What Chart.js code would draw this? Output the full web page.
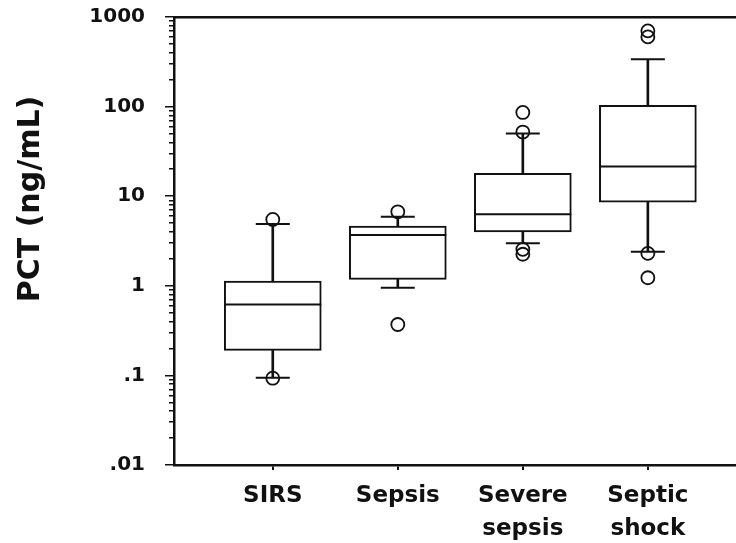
<!DOCTYPE html>
<html><head><meta charset="utf-8">
<script src="https://cdn.jsdelivr.net/npm/chart.js@4.4.1/dist/chart.umd.min.js"></script>
<style>html,body{margin:0;padding:0;background:#fff;}</style>
</head><body>
<canvas id="c" width="736" height="543"></canvas>
<script>
// ---- data ----
const categories   = ['SIRS', 'Sepsis', 'Severe sepsis', 'Septic shock'];
const q1           = [0.19, 1.18, 4.0, 8.6];
const median       = [0.62, 3.7, 6.3, 21.4];
const q3           = [1.13, 4.65, 18.0, 103];
const whiskerLow   = [0.094, 0.95, 2.98, 2.40];
const whiskerHigh  = [4.9, 5.9, 50, 337];
const outliers     = [[5.5, 0.093], [6.7, 0.37], [86, 52, 2.55, 2.25], [700, 600, 2.3, 1.23]];
const yTickValues  = [0.01, 0.1, 1, 10, 100, 1000];
const yTickLabels  = ['.01', '.1', '1', '10', '100', '1000'];
const yTitle       = 'PCT (ng/mL)';

const INK = '#111';
const pos = categories.map((c, i) => i + 1);
const boxData  = pos.map((x, i) => ({x, y: [q1[i], q3[i]]}));
const upWhisk  = pos.map((x, i) => ({x, y: [q3[i], whiskerHigh[i]]}));
const lowWhisk = pos.map((x, i) => ({x, y: [whiskerLow[i], q1[i]]}));
const medPts   = pos.map((x, i) => ({x, y: median[i]}));
const capPts   = pos.flatMap((x, i) => [{x, y: whiskerLow[i]}, {x, y: whiskerHigh[i]}]);
const outPts   = pos.flatMap((x, i) => outliers[i].map(v => ({x, y: v})));

const isDecade = v => Math.abs(Math.log10(v) - Math.round(Math.log10(v))) < 1e-6;

const titlePlugin = {
  id: 'ytitle',
  afterDraw(chart) {
    const ctx = chart.ctx;
    ctx.save();
    ctx.translate(31, 199);
    ctx.rotate(-Math.PI / 2);
    ctx.font = 'bold 30px "DejaVu Sans"';
    ctx.fillStyle = INK;
    ctx.textAlign = 'center';
    ctx.textBaseline = 'middle';
    ctx.fillText(yTitle, 0, 0);
    ctx.restore();
  }
};

new Chart(document.getElementById('c'), {
  type: 'bar',
  data: {
    datasets: [
      { type: 'scatter', data: outPts, pointStyle: 'circle', pointRadius: 6.5, pointBorderWidth: 1.8,
        pointBorderColor: INK, pointBackgroundColor: 'rgba(0,0,0,0)' },
      { type: 'scatter', data: medPts, pointStyle: 'line', pointRadius: 48.5, pointBorderWidth: 2,
        pointBorderColor: INK },
      { type: 'scatter', data: capPts, pointStyle: 'line', pointRadius: 17, pointBorderWidth: 2,
        pointBorderColor: INK },
      { data: boxData, grouped: false, barThickness: 97, backgroundColor: '#fff',
        borderColor: INK, borderWidth: 2, borderSkipped: false },
      { data: upWhisk, grouped: false, barThickness: 2, backgroundColor: INK, borderWidth: 0 },
      { data: lowWhisk, grouped: false, barThickness: 2, backgroundColor: INK, borderWidth: 0 }
    ]
  },
  options: {
    responsive: false,
    animation: false,
    devicePixelRatio: 1,
    layout: { autoPadding: false, padding: { top: 17, right: 0, bottom: 0, left: 0 } },
    plugins: { legend: { display: false }, tooltip: { enabled: false } },
    events: [],
    scales: {
      x: {
        type: 'linear', position: 'bottom', min: 0.21, max: 4.705, offset: false,
        afterBuildTicks: s => { s.ticks = pos.map(v => ({value: v})); },
        afterFit: s => { s.height = 78; },
        ticks: {
          autoSkip: false, maxRotation: 0, padding: 9, color: INK,
          font: { family: 'DejaVu Sans', weight: 'bold', size: 23, lineHeight: 1.45 },
          callback: v => { const l = categories[v - 1]; return l ? l.split(' ') : ''; }
        },
        grid: { offset: false, drawOnChartArea: false, tickLength: 5, color: INK, lineWidth: 2 },
        border: { color: INK, width: 2.5 }
      },
      x2: {
        type: 'linear', position: 'top', min: 0, max: 1, offset: false,
        ticks: { display: false },
        grid: { display: false, drawTicks: false, offset: false },
        border: { display: true, color: INK, width: 2.5 }
      },
      y: {
        type: 'logarithmic', min: 0.01, max: 1000,
        afterBuildTicks: s => {
          const t = [];
          yTickValues.forEach((v, i) => {
            if (i < yTickValues.length - 1) { for (let k = 1; k < 10; k++) t.push({value: v * k, major: k === 1}); }
            else t.push({value: v, major: true});
          });
          s.ticks = t;
        },
        afterFit: s => { s.width = 174; s.paddingTop = 12; s.paddingBottom = 12; },
        ticks: {
          autoSkip: false, padding: 20, color: INK,
          font: { family: 'DejaVu Sans', weight: 'bold', size: 20 },
          callback: v => {
            const i = yTickValues.findIndex(t => Math.abs(Math.log10(t) - Math.log10(v)) < 1e-6);
            return i >= 0 ? yTickLabels[i] : '';
          }
        },
        grid: {
          drawOnChartArea: false, tickLength: 9, color: INK, lineWidth: 1.5,
          tickBorderDash: c => (c.tick && isDecade(c.tick.value)) ? [] : [0, 4, 7, 30]
        },
        border: { color: INK, width: 2.5 }
      }
    }
  },
  plugins: [titlePlugin]
});
</script>
</body></html>
